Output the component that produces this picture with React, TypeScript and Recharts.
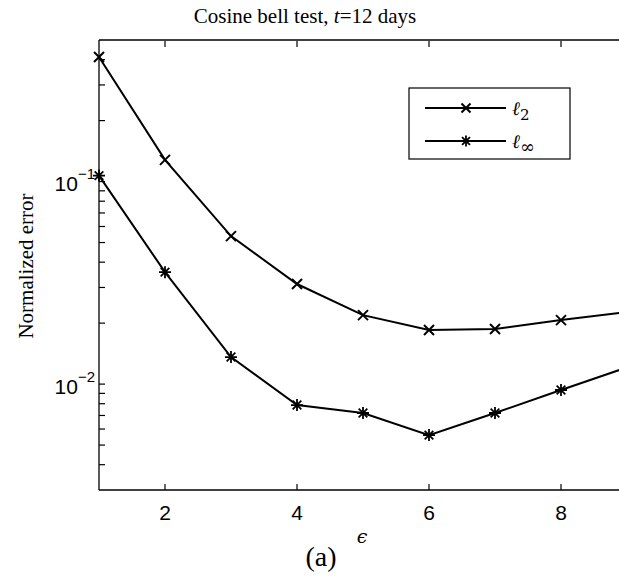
import React from 'react';
import { LineChart, Line, XAxis, YAxis, Legend } from 'recharts';

const epsilons = [1, 2, 3, 4, 5, 6, 7, 8, 9];
const l2Errors = [0.412, 0.128, 0.0538, 0.0312, 0.0219, 0.0185, 0.0187, 0.0207, 0.0227];
const lInfErrors = [0.107, 0.0357, 0.0136, 0.00788, 0.0072, 0.0056, 0.0072, 0.00935, 0.0121];

const xTicks = [2, 4, 6, 8];
const yTicks = [
  0.004, 0.005, 0.006, 0.007, 0.008, 0.009,
  0.01, 0.02, 0.03, 0.04, 0.05, 0.06, 0.07, 0.08, 0.09,
  0.1, 0.2, 0.3, 0.4,
];
const seriesKeys = ['l2', 'linf'];
const seriesSubs = ['2', '∞'];

const data = epsilons.map((e, i) => ({ eps: e, l2: l2Errors[i], linf: lInfErrors[i] }));

const SANS = '"Liberation Sans", Arial, sans-serif';
const SERIF = '"Liberation Serif", "Times New Roman", serif';

const Cross = ({ cx, cy, r = 5 }: { cx: number; cy: number; r?: number }) => (
  <path
    d={`M${cx - r},${cy - r}L${cx + r},${cy + r}M${cx - r},${cy + r}L${cx + r},${cy - r}`}
    stroke="#000"
    strokeWidth={2}
    fill="none"
  />
);

const Star = ({ cx, cy, r = 6 }: { cx: number; cy: number; r?: number }) => {
  const d = r * 0.72;
  return (
    <path
      d={`M${cx},${cy - r}L${cx},${cy + r}M${cx - r},${cy}L${cx + r},${cy}M${cx - d},${cy - d}L${cx + d},${cy + d}M${cx - d},${cy + d}L${cx + d},${cy - d}`}
      stroke="#000"
      strokeWidth={1.8}
      fill="none"
    />
  );
};

const XTick = ({ x, y, payload }: any) => (
  <g>
    <line x1={x} y1={y} x2={x} y2={y - 6} stroke="#000" strokeWidth={1.2} />
    <text x={x} y={y + 30} textAnchor="middle" fontFamily={SANS} fontSize={21} fill="#000">
      {payload.value}
    </text>
  </g>
);

const TopTick = ({ x, y }: any) => (
  <line x1={x} y1={y + 1} x2={x} y2={y + 7} stroke="#000" strokeWidth={1.2} />
);

const YTick = ({ x, y, payload }: any) => {
  const lg = Math.log10(payload.value);
  const exp = Math.round(lg);
  const major = Math.abs(lg - exp) < 1e-6;
  return (
    <g>
      <line x1={x} y1={y} x2={x + 6} y2={y} stroke="#000" strokeWidth={1.2} />
      {major && (
        <text x={x - 4} y={y + 9.5} textAnchor="end" fontFamily={SANS} fontSize={21} fill="#000">
          10
          <tspan dy={-12} fontSize={15}>
            {'\u2212' + Math.abs(exp)}
          </tspan>
        </text>
      )}
    </g>
  );
};

const LegendBox = ({ payload }: any) => (
  <svg width={164} height={73}>
    <rect x={1} y={1} width={161} height={71} fill="#fff" stroke="#000" strokeWidth={1.2} />
    {(payload || []).map((p: any, i: number) => {
      const cy = 21 + i * 33;
      const k = seriesKeys.indexOf(p.dataKey);
      return (
        <g key={p.dataKey}>
          <line x1={17} y1={cy} x2={98} y2={cy} stroke="#000" strokeWidth={2} />
          {k === 0 ? <Cross cx={58} cy={cy} r={4.5} /> : <Star cx={58} cy={cy} r={5.5} />}
          <text x={104} y={cy + 7} fontFamily='"DejaVu Serif", serif' fontStyle="italic" fontSize={19} fill="#000">
            ℓ
            <tspan dy={5} fontSize={k === 0 ? 15 : 18} fontStyle="normal">{seriesSubs[k]}</tspan>
          </text>
        </g>
      );
    })}
  </svg>
);

const Title = () => (
  <text x={305} y={23} textAnchor="middle" fontFamily={SERIF} fontSize={21} fill="#000">
    Cosine bell test, <tspan fontStyle="italic">t</tspan>=12 days
  </text>
);

const XCaption = () => (
  <g>
    <text x={362} y={543} textAnchor="middle" fontFamily='"DejaVu Serif", serif' fontStyle="italic" fontSize={19} fill="#000">
      ϵ
    </text>
    <text x={321} y={566} textAnchor="middle" fontFamily={SERIF} fontSize={28} fill="#000">
      (a)
    </text>
  </g>
);

const YCaption = () => (
  <text transform="translate(33,266) rotate(-90)" textAnchor="middle" fontFamily={SERIF} fontSize={21} fill="#000">
    Normalized error
  </text>
);

export default function App() {
  return (
    <div style={{ position: 'absolute', left: 0, top: 0, width: 619, height: 580, overflow: 'hidden', background: '#fff' }}>
      <LineChart width={680} height={580} data={data} margin={{ top: 39, right: 53, bottom: 60, left: 0 }}>
        <XAxis
          dataKey="eps"
          type="number"
          domain={[1, 9]}
          ticks={xTicks}
          interval={0}
          height={30}
          tickSize={0}
          tickMargin={0}
          tickLine={false}
          tick={<XTick />}
          axisLine={{ stroke: '#000', strokeWidth: 1.3 }}
          label={{ content: () => <XCaption /> }}
        />
        <XAxis
          xAxisId="top"
          orientation="top"
          dataKey="eps"
          type="number"
          domain={[1, 9]}
          ticks={xTicks}
          interval={0}
          height={1}
          tickSize={0}
          tickMargin={0}
          tickLine={false}
          tick={<TopTick />}
          axisLine={{ stroke: '#000', strokeWidth: 1.3 }}
          label={{ content: () => <Title /> }}
        />
        <YAxis
          scale="log"
          domain={[0.003, 0.5]}
          allowDataOverflow
          ticks={yTicks}
          interval={0}
          width={99}
          tickSize={0}
          tickMargin={0}
          tickLine={false}
          tick={<YTick />}
          axisLine={{ stroke: '#000', strokeWidth: 1.3 }}
          label={{ content: () => <YCaption /> }}
        />
        <Legend
          layout="vertical"
          align="center"
          verticalAlign="middle"
          content={<LegendBox />}
          wrapperStyle={{ left: 408, top: 87, width: 164, height: 73 }}
        />
        <Line
          dataKey="l2"
          name="l2"
          type="linear"
          stroke="#000"
          strokeWidth={2}
          isAnimationActive={false}
          dot={(p: any) => <Cross key={`c${p.index}`} cx={p.cx} cy={p.cy} />}
        />
        <Line
          dataKey="linf"
          name="linf"
          type="linear"
          stroke="#000"
          strokeWidth={2}
          isAnimationActive={false}
          dot={(p: any) => <Star key={`s${p.index}`} cx={p.cx} cy={p.cy} />}
        />
      </LineChart>
    </div>
  );
}
